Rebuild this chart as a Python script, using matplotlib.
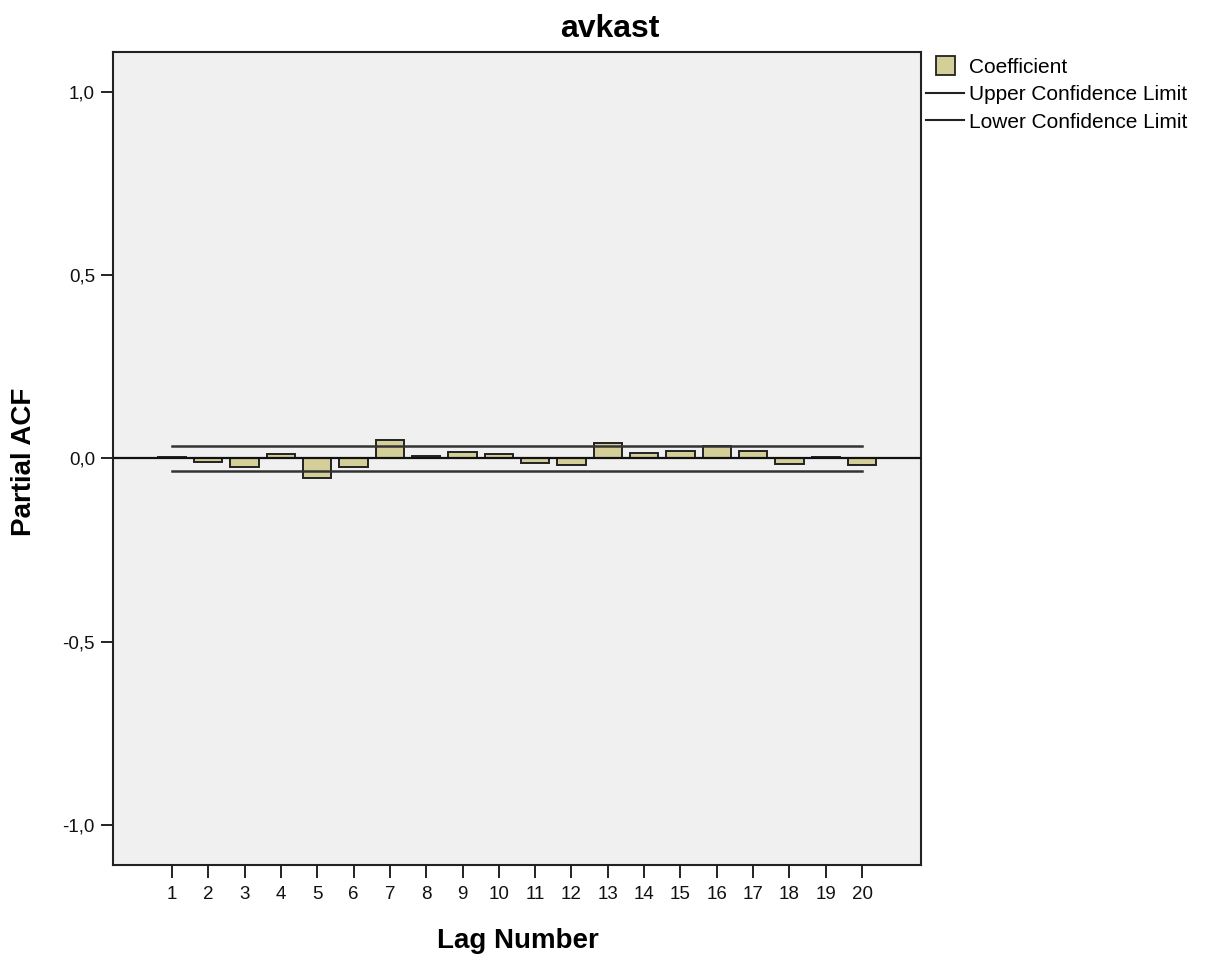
import matplotlib
matplotlib.use("Agg")
import matplotlib.pyplot as plt
from matplotlib.patches import Patch, Rectangle
from matplotlib.lines import Line2D
from matplotlib.legend_handler import HandlerPatch
from matplotlib.ticker import FuncFormatter

plt.rcParams['font.family'] = ['Liberation Sans', 'DejaVu Sans']

# partial ACF per lag
lags = list(range(1, 21))
pacf = [0.003, -0.009, -0.023, 0.011, -0.052, -0.023, 0.050, 0.007, 0.017, 0.012,
        -0.012, -0.017, 0.043, 0.014, 0.021, 0.034, 0.021, -0.016, 0.003, -0.017]
upper_limit = 0.035
lower_limit = -0.035
yticks = [-1.0, -0.5, 0.0, 0.5, 1.0]

W, H = 1212, 961
fig = plt.figure(figsize=(W / 100, H / 100), dpi=100)
ax = fig.add_axes([113 / W, 1 - 865 / H, (921 - 113) / W, (865 - 52) / H])
ax.set_facecolor('#f0f0f0')

ax.bar(lags, pacf, width=0.78, color='#d4cf98', edgecolor='#222222', linewidth=1.4, zorder=2)
ax.plot([lags[0], lags[-1]], [upper_limit, upper_limit], color='#333333', lw=1.8, zorder=3)
ax.plot([lags[0], lags[-1]], [lower_limit, lower_limit], color='#333333', lw=1.8, zorder=3)
ax.axhline(0, color='#111111', lw=1.6, zorder=4)

ax.set_xlim(-0.62, 21.62)
ax.set_ylim(-1.11, 1.11)
ax.set_xticks(lags)
ax.set_yticks(yticks)
ax.yaxis.set_major_formatter(FuncFormatter(lambda v, p: f"{v:.1f}".replace('.', ',')))
ax.tick_params(direction='out', length=9, width=1.3, labelsize=13.5, colors='#111111', pad=4)
ax.tick_params(axis='x', pad=6)
for s in ax.spines.values():
    s.set_linewidth(1.5)
    s.set_color('#222222')

fig.text(610 / W, 1 - 37 / H, 'avkast', fontsize=23, fontweight='bold', ha='center', va='baseline')
fig.text(518 / W, 1 - 948 / H, 'Lag Number', fontsize=20, fontweight='bold', ha='center', va='baseline')
fig.text(24 / W, 1 - 462 / H, 'Partial ACF', fontsize=20, fontweight='bold', rotation=90,
         ha='center', va='center')


def square_patch(legend, orig_handle, xdescent, ydescent, width, height, fontsize):
    s = height * 1.3
    return Rectangle((-xdescent + (width - s) / 2, -ydescent + (height - s) / 2), s, s)


handles = [Patch(facecolor='#d4cf98', edgecolor='#222222', linewidth=1.3),
           Line2D([], [], color='#222222', lw=1.5),
           Line2D([], [], color='#222222', lw=1.5)]
labels = ['Coefficient', 'Upper Confidence Limit', 'Lower Confidence Limit']
fig.legend(handles, labels, loc='upper left', bbox_to_anchor=(926 / W, 1 - 58 / H),
           frameon=False, fontsize=15, handlelength=1.83, handletextpad=0.24,
           labelspacing=0.4, borderaxespad=0, borderpad=0,
           handler_map={Patch: HandlerPatch(patch_func=square_patch)})

fig.savefig('out.png', dpi=100, facecolor='white')
